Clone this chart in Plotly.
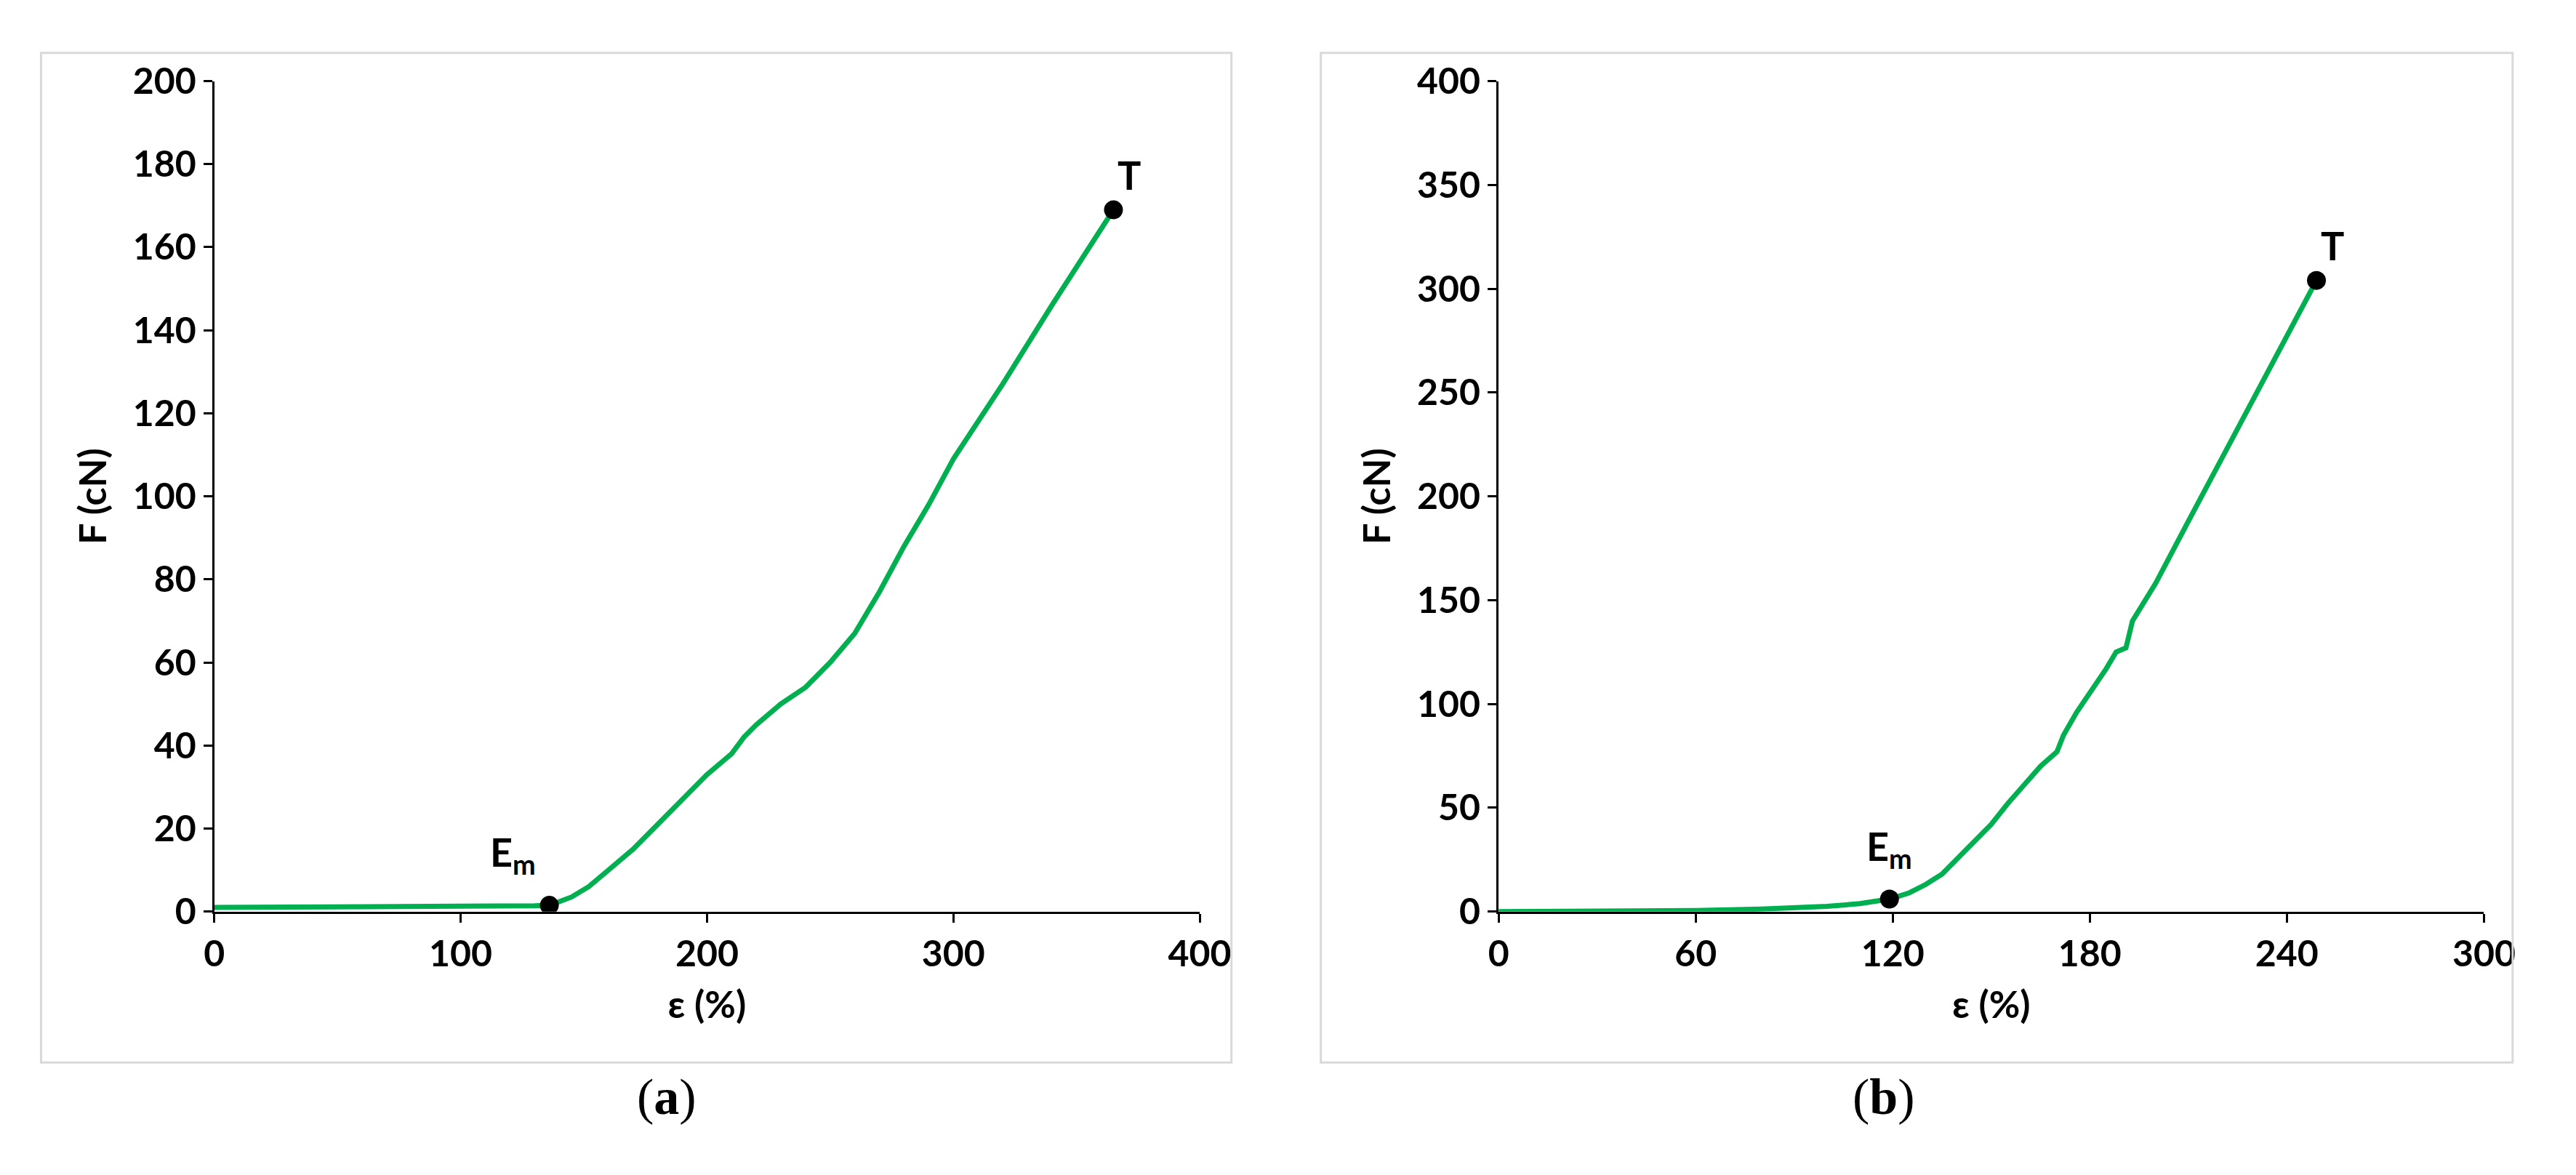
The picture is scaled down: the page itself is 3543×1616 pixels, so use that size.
import plotly.graph_objects as go

xa = [0, 20, 60, 100, 130, 136, 145, 152, 160, 170, 180, 190, 200, 210, 215, 220, 230, 240, 250, 260, 270, 280, 290, 300, 320, 340, 365]
ya = [1, 1, 1.2, 1.3, 1.4, 1.5, 3.5, 6, 10, 15, 21, 27, 33, 38, 42, 45, 50, 54, 60, 67, 77, 88, 98, 109, 127, 146, 169]
xb = [0, 40, 60, 80, 100, 110, 119, 125, 130, 135, 140, 145, 150, 155, 160, 165, 170, 172, 176, 180, 185, 188, 191, 193, 200, 210, 220, 230, 240, 249]
yb = [0, 0.2, 0.5, 1.2, 2.5, 3.8, 6, 9, 13, 18, 26, 34, 42, 52, 61, 70, 77, 85, 96, 105, 117, 125, 127, 140, 158, 188, 218, 248, 278, 304]
pts_a = {"Em": (136, 1.5), "T": (365, 169)}
pts_b = {"Em": (119, 6), "T": (249, 304)}

GREEN = "#00B050"
FONT = "Lato"
fig = go.Figure()
fig.add_trace(go.Scatter(x=xa, y=ya, mode="lines", line=dict(color=GREEN, width=7), xaxis="x", yaxis="y"))
fig.add_trace(go.Scatter(x=[p[0] for p in pts_a.values()], y=[p[1] for p in pts_a.values()], mode="markers",
                         marker=dict(color="black", size=26), xaxis="x", yaxis="y"))
fig.add_trace(go.Scatter(x=xb, y=yb, mode="lines", line=dict(color=GREEN, width=7), xaxis="x2", yaxis="y2"))
fig.add_trace(go.Scatter(x=[p[0] for p in pts_b.values()], y=[p[1] for p in pts_b.values()], mode="markers",
                         marker=dict(color="black", size=26), xaxis="x2", yaxis="y2"))

ax = dict(showline=True, linecolor="black", linewidth=3, ticks="outside", ticklen=12, tickwidth=3,
          tickcolor="black", showgrid=False, zeroline=False,
          tickfont=dict(family=FONT, size=50, color="black", weight="bold"))
tf = dict(family=FONT, size=52, color="black", weight="bold")
fig.update_layout(
    width=3543, height=1616, showlegend=False, plot_bgcolor="white", paper_bgcolor="white",
    margin=dict(l=0, r=0, t=0, b=0),
    xaxis=dict(ax, domain=[0.078, 0.467], range=[0, 400], dtick=100, anchor="y",
               title=dict(text="ε (%)", font=tf, standoff=25)),
    yaxis=dict(ax, domain=[0.22, 0.954], range=[0, 200], dtick=20, anchor="x",
               title=dict(text="F (cN)", font=tf, standoff=20)),
    xaxis2=dict(ax, domain=[0.585, 0.974], range=[0, 300], dtick=60, anchor="y2",
                title=dict(text="ε (%)", font=tf, standoff=25)),
    yaxis2=dict(ax, domain=[0.22, 0.954], range=[0, 400], dtick=50, anchor="x2",
                title=dict(text="F (cN)", font=tf, standoff=20)),
)
for x0, x1 in [(34, 1699), (1824, 3491)]:
    fig.add_shape(type="rect", xref="paper", yref="paper", x0=x0/3543, x1=x1/3543,
                  y0=1-1476/1616, y1=1-34/1616, line=dict(color="#D9D9D9", width=3))
af = dict(family=FONT, size=54, color="black", weight="bold")
fig.add_annotation(x=pts_a["Em"][0], y=pts_a["Em"][1], xref="x", yref="y", text="E<sub>m</sub>",
                   showarrow=False, xshift=-50, yshift=70, font=af)
fig.add_annotation(x=pts_a["T"][0], y=pts_a["T"][1], xref="x", yref="y", text="T",
                   showarrow=False, xshift=22, yshift=48, font=af)
fig.add_annotation(x=pts_b["Em"][0], y=pts_b["Em"][1], xref="x2", yref="y2", text="E<sub>m</sub>",
                   showarrow=False, xshift=0, yshift=70, font=af)
fig.add_annotation(x=pts_b["T"][0], y=pts_b["T"][1], xref="x2", yref="y2", text="T",
                   showarrow=False, xshift=22, yshift=48, font=af)
for cx, lab in [(865, "(<b>a</b>)"), (2657, "(<b>b</b>)")]:
    fig.add_annotation(x=cx/3543, y=1-1567/1616, xref="paper", yref="paper", text=lab, showarrow=False,
                       font=dict(family="Liberation Serif", size=70, color="black"))
fig.write_html("out.html")
